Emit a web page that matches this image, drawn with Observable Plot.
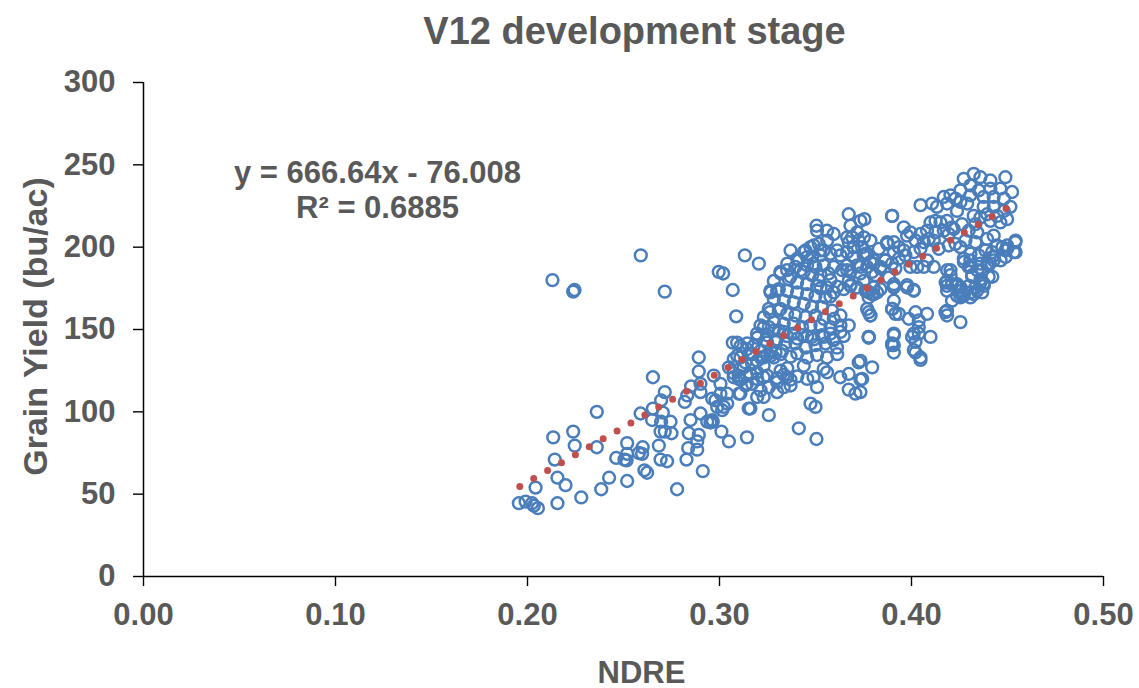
<!DOCTYPE html>
<html>
<head>
<meta charset="utf-8">
<script src="https://cdn.jsdelivr.net/npm/d3@7"></script>
<script src="https://cdn.jsdelivr.net/npm/@observablehq/plot@0.6"></script>
<style>
  html, body { margin: 0; padding: 0; background: #fff; }
  #chart { width: 1139px; height: 688px; }
</style>
</head>
<body>
<div id="chart"></div>
<script>
// ---- Chart text ----
const chartTitle = "V12 development stage";
const xTitle = "NDRE";
const yTitle = "Grain Yield (bu/ac)";

// ---- Axis ticks ----
const xTicks = [0, 0.1, 0.2, 0.3, 0.4, 0.5];
const yTicks = [0, 50, 100, 150, 200, 250, 300];

// ---- Linear trendline (from the chart's equation) ----
const slope = 666.64;
const intercept = -76.008;
const rSquared = 0.6885;
const trendNdre = [0.196, 0.4525];

// ---- Observations [NDRE, grain yield] ----
const pointsLow = [
  [0.259,195],[0.213,180],[0.2245,174],[0.2238,173],[0.2715,173],[0.2996,185],[0.3019,184],[0.3069,174],[0.3087,158],[0.3069,142],
  [0.2892,133],[0.2892,124.5],[0.2653,121],[0.2715,112],[0.2852,115.5],[0.2832,110],[0.2819,106],[0.2901,112],[0.2696,107],[0.2653,102],
  [0.2705,99.5],[0.2589,99],[0.2649,95],[0.2696,94],[0.2745,94],[0.2901,99],[0.2849,95],[0.2936,94],[0.2965,94],[0.2361,100],
  [0.2693,88],[0.2715,88],[0.275,87],[0.284,87],[0.2892,86],[0.2884,82],[0.2884,77],[0.301,88],[0.3049,82],[0.2238,88],
  [0.2134,84.5],[0.2246,79.5],[0.2361,78.5],[0.2519,81],[0.26,78.5],[0.2597,74.5],[0.2684,79.5],[0.2837,78],[0.2462,72],[0.2505,71],
  [0.2516,70.5],[0.2519,74.5],[0.258,75],[0.2693,71],[0.2727,70],[0.2828,71],[0.2142,71],[0.2609,64.5],[0.2623,63],[0.2913,64],
  [0.2156,60],[0.2198,55.5],[0.2042,54],[0.2425,60],[0.2384,53],[0.2519,58],[0.2779,53],[0.228,48],[0.2156,44.5],[0.1955,44.5],
  [0.199,45.5],[0.2024,44.5],[0.2033,43],[0.2054,41.5]
];
const pointsMid = [
  [0.3074,123.5],[0.31,122],[0.304,111],[0.2953,93.5],[0.2962,108],[0.2988,103],[0.2979,107],[0.3022,103],[0.3005,111],[0.3109,111],
  [0.3143,117],[0.3152,102],[0.3143,84.5],[0.3014,101],[0.3005,117],[0.2962,95],[0.3161,102],[0.3257,98],[0.3196,109],[0.323,109],
  [0.33,112],[0.3413,90],[0.3505,83.5],[0.3474,105],[0.35,103],[0.3508,115],[0.3725,130],[0.3795,127],[0.3673,123],[0.3734,119.5],
  [0.3673,113.5],[0.3708,111],[0.3777,145],[0.349,121],[0.3543,126],[0.356,124],[0.3629,121],[0.2901,117],[0.297,122],[0.3049,127],
  [0.304,105],[0.3101,120],[0.3135,116],[0.3101,111],[0.3161,123],[0.3196,124],[0.323,121],[0.317,117],[0.3214,113],[0.3257,115],
  [0.33,118],[0.3318,125],[0.3352,121],[0.337,116],[0.3335,115]
];
const pointsCore = [
  [0.3196,145],[0.3248,146.5],[0.33,144],[0.3353,146],[0.3405,144.5],[0.3457,146],[0.3491,144],[0.3543,145.5],[0.3595,144],[0.3647,146],
  [0.3092,134],[0.3161,135.5],[0.3214,133],[0.3248,134.5],[0.3283,133],[0.3318,135],[0.337,133.5],[0.3405,135.5],[0.3457,133],[0.3508,134.5],[0.356,133],[0.3613,135],
  [0.3074,121],[0.3109,119.5],[0.3143,122],[0.3196,120],[0.3248,122],[0.33,120.5],[0.3335,122.5],[0.337,119.5],[0.3405,121.5],[0.3457,120],
  [0.3126,127],[0.323,128],[0.3353,126.5],[0.3439,128],
  [0.3092,142],[0.3109,140],[0.3143,138],[0.3178,140],[0.317,135],[0.3214,137],[0.3248,142],[0.3135,130],[0.317,129],[0.3196,131],
  [0.323,133],[0.3266,134],[0.3292,136],[0.3326,137],[0.3074,132],[0.3109,133],
  [0.3132,195],[0.3205,190],[0.3262,160.5],[0.3318,162.5],[0.3266,172.5],[0.33,173.5],[0.3214,152.5],[0.3257,151.5],[0.3309,149.5]
];
const pointsUpper = [
  [0.3673,220],[0.3755,217],[0.3899,219],[0.3505,213],[0.356,210],[0.3682,213],[0.3717,209],[0.3691,206],[0.3673,203],[0.3725,204],
  [0.3699,200],[0.3743,200],[0.3665,197],[0.363,195],[0.3699,194],[0.3751,195],[0.3786,191],[0.3717,189],[0.3665,189],[0.3639,186],
  [0.3682,185],[0.3734,184],[0.3795,185],[0.3838,187],[0.3864,192],[0.3873,202],[0.3908,203],[0.3934,200],[0.3934,193],[0.3899,190],
  [0.3882,181.5],[0.3908,175.5],[0.3838,174.5],[0.3803,171.5],[0.3769,173.5],[0.3777,169.5],[0.3717,175.5],[0.3682,176.5],[0.3647,174.5],[0.3673,179.5],
  [0.3474,200],[0.3517,202],[0.3543,198],[0.3578,196],[0.3526,195],[0.3482,194],[0.3439,197],[0.3413,192],[0.3456,189],[0.35,188],
  [0.3543,189],[0.3595,188],[0.3569,184],[0.3526,183],[0.3482,183],[0.3439,185],[0.3395,188],[0.3352,186],[0.3317,185],[0.3361,180.5],
  [0.3404,178.5],[0.3456,177.5],[0.3508,176.5],[0.356,175.5],[0.3595,172.5],[0.3552,169.5],[0.35,170.5],[0.3456,171.5],[0.3404,172.5],[0.3352,173.5],
  [0.3309,174.5],[0.3265,173.5],[0.3283,168.5],[0.3335,167.5],[0.3387,166.5],[0.3439,165.5],[0.3482,163.5],[0.3534,163.5],[0.3586,161.5],[0.363,158.5],
  [0.3595,156.5],[0.3543,156.5],[0.35,158.5],[0.3448,157.5],[0.3395,158.5],[0.3352,159.5],[0.3309,161.5],[0.3257,162.5],[0.3231,157.5],[0.3283,154.5],
  [0.3335,153.5],[0.3387,153.5],[0.343,151.5],[0.3474,152.5],[0.3526,152.5],[0.3578,151.5],[0.363,152.5],[0.3673,152.5],[0.363,148.5],[0.3578,147.5],
  [0.3534,146.5],[0.3482,145.5],[0.343,146.5],[0.3387,147.5],[0.3335,148.5],[0.3283,149.5],[0.3231,151.5],[0.3196,147.5],[0.3239,143.5],[0.3291,142.5],
  [0.3343,141.5],[0.3395,141.5],[0.3448,139],[0.35,140.5],[0.3552,141.5],[0.3595,143.5],[0.3612,139],[0.3144,141.5],
  [0.3769,162.5],[0.3786,158.5],[0.3777,145.5],[0.3899,162.5],[0.3916,159.5],[0.3908,147.5],[0.3899,141.5],[0.3283,179.5],
  [0.337,198],[0.3405,193],[0.3353,190],[0.3318,184],[0.337,182],[0.3422,186],[0.3516,180],[0.3491,190],[0.3526,198],[0.3561,204],
  [0.3595,208],[0.3613,198],[0.3665,206],[0.3699,200],[0.3752,206],[0.3769,196],[0.3804,190],[0.3734,188],[0.3665,186],[0.3578,180],
  [0.3526,175],[0.3613,176],[0.3682,177],[0.3578,170],[0.3448,198],[0.3491,201],[0.3456,194],[0.3508,210]
];
const pointsRight = [
  [0.4272,241.5],[0.4324,244.5],[0.4359,242.5],[0.4411,240.5],[0.4489,242.5],[0.4524,233.5],[0.4463,235.5],[0.4411,235.5],[0.435,234.5],[0.4307,237.5],
  [0.4255,234.5],[0.4307,231.5],[0.4376,230.5],[0.4428,230.5],[0.4481,229.5],[0.4515,224.5],[0.4481,222],[0.4428,224.5],[0.4376,224.5],[0.4394,220],
  [0.4446,219],[0.4498,217],[0.4463,215],[0.4411,216],[0.4359,218],[0.4324,219],[0.4333,214],[0.4298,210],[0.4263,214],[0.422,211],
  [0.4194,208],[0.4342,209],[0.4394,205],[0.4428,207],[0.4446,201],[0.4498,201],[0.4541,203],[0.4489,198],[0.4533,197],[0.442,197],
  [0.4385,198],[0.435,195],[0.4307,192],[0.4272,193],[0.4307,196],[0.4255,200],[0.4281,204],[0.4229,202],[0.4333,203],[0.4359,190],
  [0.4402,189],[0.4428,192],[0.4342,186],[0.4298,188],[0.4316,182],[0.4359,178.5],[0.4402,182],[0.4333,175.5],[0.4368,172.5],[0.4324,171.5],
  [0.4307,169.5],[0.4272,171.5],[0.4246,173.5],[0.4237,176.5],[0.4211,177.5],[0.4185,179.5],[0.4185,176.5],[0.4255,169.5],[0.4203,186],[0.4177,160.5],
  [0.4185,158.5],[0.4255,154.5],
  [0.4047,225.5],[0.4107,226.5],[0.4133,224.5],[0.4168,230.5],[0.4203,231.5],[0.4229,229.5],[0.4185,226.5],[0.4255,227.5],[0.429,226.5],[0.4237,222],
  [0.4125,216],[0.4151,215],[0.4099,215],[0.4185,216],[0.4211,212],[0.4168,210],[0.4125,209],[0.4081,210],[0.4047,208],[0.3994,209],
  [0.396,212],[0.3977,207],[0.4021,204],[0.4064,203],[0.409,205],[0.4116,204],[0.4142,199],[0.4194,201],[0.4047,199],[0.4012,197],
  [0.396,198],[0.3908,197],[0.3873,203],[0.3899,219],[0.3968,195],[0.4029,188],[0.4064,188],[0.4116,188],[0.4081,192],[0.3994,188],
  [0.3916,187],[0.3864,192],[0.383,199],[0.3786,204],[0.3734,216],
  [0.376,196],[0.3803,192],[0.3838,188],[0.3769,188],[0.3812,183],[0.3751,179.5],[0.3803,175.5],[0.3777,172.5],[0.3821,172.5],[0.3908,177.5],
  [0.3977,175.5],[0.4012,173.5],[0.3908,167.5],[0.3777,160.5],[0.3786,158.5],[0.3899,162.5],[0.3934,159.5],[0.3986,156.5],[0.4021,160.5],[0.4038,155.5],
  [0.4081,159.5],[0.4038,151.5],[0.4012,147.5],[0.3908,146.5],[0.3908,140.5],[0.3908,136],[0.3777,145.5],[0.4021,142.5],[0.4038,147.5],[0.4099,145.5],
  [0.4021,136],[0.4047,133],
  [0.4229,177],[0.4255,173.5],[0.4237,170.5],[0.4272,170.5],[0.4307,172.5],[0.4342,173.5],[0.4376,178],[0.4211,167.5],[0.4185,173.5],[0.4185,161.5],
  [0.4003,145.5],[0.3899,140.5],[0.4012,137.5],[0.4047,131.5],[0.3734,131],[0.3743,120],[0.3734,112],[0.3908,176],[0.3977,177],[0.4012,174],
  [0.3795,171.5],[0.376,173.5],
  [0.4473,200],[0.4499,199],[0.4542,204],[0.4542,197],[0.449,194],[0.4464,192],[0.4421,194],[0.4395,190],[0.4369,186],[0.4421,182],
  [0.4273,191],[0.4308,188],[0.4316,183],[0.436,180.5],[0.4377,176.5],[0.4186,186],[0.4204,183],[0.4238,177.5],[0.4178,178.5],[0.4299,176.5],
  [0.4256,175.5]
];

// ---- Build tables ----
const observations = [...pointsLow, ...pointsMid, ...pointsCore, ...pointsUpper, ...pointsRight]
  .map(([ndre, yieldValue]) => ({ndre, yieldValue}));
const trend = trendNdre.map(ndre => ({ndre, yieldValue: slope * ndre + intercept}));
const equationText = `y = ${slope}x - ${Math.abs(intercept).toFixed(3)}\nR² = ${rSquared}`;

const textColor = "#595959";
const font = "'Liberation Sans', Arial, sans-serif";

const chart = Plot.plot({
  width: 1139,
  height: 688,
  marginLeft: 143,
  marginRight: 36,
  marginTop: 82,
  marginBottom: 112,
  style: {fontFamily: font, fontWeight: "bold", fontSize: "31px", color: textColor, background: "#fff", overflow: "visible"},
  x: {domain: [0, 0.5]},
  y: {domain: [0, 300]},
  marks: [
    Plot.axisX({ticks: xTicks, tickFormat: d3.format(".2f"), tickSize: 10, tickPadding: 16, label: null,
      stroke: "#000", fill: textColor, fontSize: 31, strokeWidth: 1.4}),
    Plot.axisY({ticks: yTicks, tickSize: 10, tickPadding: 18, label: null,
      stroke: "#000", fill: textColor, fontSize: 31, strokeWidth: 1.4}),
    Plot.ruleY([0], {stroke: "#000", strokeWidth: 1.5}),
    Plot.ruleX([0], {stroke: "#000", strokeWidth: 1.5}),
    Plot.dot(observations, {x: "ndre", y: "yieldValue", r: 5.9, stroke: "#4A7EBB", strokeWidth: 2.5, fill: "none"}),
    Plot.line(trend, {x: "ndre", y: "yieldValue", stroke: "#C0504D", strokeWidth: 7,
      strokeDasharray: "0,16", strokeLinecap: "round"}),
    Plot.text([equationText], {frameAnchor: "top-left", dx: 234, dy: 76, lineAnchor: "top", textAnchor: "middle",
      fill: textColor, fontSize: 31, fontWeight: "bold", lineHeight: 1.13}),
    Plot.text([chartTitle], {frameAnchor: "top", dx: 11, dy: -65, lineAnchor: "top", textAnchor: "middle",
      fill: textColor, fontSize: 38, fontWeight: "bold"}),
    Plot.text([xTitle], {frameAnchor: "bottom", dx: 18, dy: 84, lineAnchor: "top", textAnchor: "middle",
      fill: textColor, fontSize: 31, fontWeight: "bold"}),
    Plot.text([yTitle], {frameAnchor: "left", dx: -121, dy: -3, rotate: -90, lineAnchor: "top", textAnchor: "middle",
      fill: textColor, fontSize: 34, fontWeight: "bold"})
  ]
});
document.getElementById("chart").appendChild(chart);
</script>
</body>
</html>
